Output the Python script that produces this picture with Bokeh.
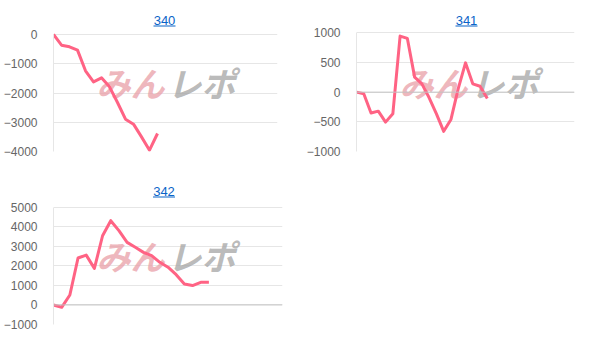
from bokeh.plotting import figure
from bokeh.models import Range1d, FixedTicker, Label, Span, ColumnDataSource, BoxAnnotation
from bokeh.layouts import column, row
from bokeh.embed import file_html
from bokeh.resources import INLINE

# ---- data ----
titles = ["340", "341", "342"]
s340 = [0, -365, -420, -535, -1240, -1620, -1480, -1790, -2325, -2895, -3065, -3500, -3955, -3385]
s341 = [0, -28, -350, -320, -505, -365, 945, 905, 253, 140, -95, -365, -660, -460, 60, 494, 140, 100, -107]
s342 = [0, -120, 510, 2400, 2550, 1870, 3540, 4310, 3800, 3200, 2950, 2690, 2520, 2180, 1930, 1550, 1070, 990, 1160, 1160]
slots = [28, 30, 28]          # number of x intervals on each chart's category axis
yranges = [(-4000, 0), (-1000, 1000), (-1000, 5000)]
yticks = [[-4000, -3000, -2000, -1000, 0],
          [-1000, -500, 0, 500, 1000],
          [-1000, 0, 1000, 2000, 3000, 4000, 5000]]

LINE = "#ff6384"
GRID = "#e6e6e6"
LINK = "#0a64c8"
FONT = "Liberation Sans"
W, H = 303, 171
FTOP = 5   # frame top (the title area lives inside the frame, above the data area)


def make(title, series, nslot, yr, ticks, left, right, data_top, data_bottom, tx):
    # data_top/data_bottom: pixel rows (within this figure) of the top and bottom tick values
    ypp = (yr[1] - yr[0]) / (data_bottom - data_top)
    yend = yr[1] + (data_top - FTOP) * ypp
    p = figure(width=W, height=H, output_backend="svg", toolbar_location=None,
               x_range=Range1d(0, nslot), y_range=Range1d(yr[0], yend),
               min_border_left=left, min_border_right=right,
               min_border_top=FTOP, min_border_bottom=H - data_bottom)
    fh = data_bottom - FTOP
    p.outline_line_color = None
    p.xaxis.visible = False
    p.xgrid.visible = False
    p.ygrid.grid_line_color = GRID
    p.ygrid.ticker = FixedTicker(ticks=ticks)
    ax = p.yaxis[0]
    ax.ticker = FixedTicker(ticks=ticks)
    ax.bounds = yr
    ax.major_tick_line_color = None
    ax.minor_tick_line_color = None
    ax.axis_line_color = GRID
    ax.major_label_text_font = FONT
    ax.major_label_text_font_size = "12px"
    ax.major_label_text_color = "#666666"
    ax.major_label_standoff = 10
    # watermark
    p.add_layout(Label(x=77, y=69, x_units="screen", y_units="screen",
                       text="みん", text_font="Noto Sans CJK JP", text_font_style="bold italic",
                       text_font_size="34px", text_color="#e9a0a8", text_alpha=0.75,
                       text_align="center", text_baseline="middle", level="underlay"))
    p.add_layout(Label(x=148, y=69, x_units="screen", y_units="screen",
                       text="レポ", text_font="Noto Sans CJK JP", text_font_style="bold italic",
                       text_font_size="34px", text_color="#a8a8a8", text_alpha=0.8,
                       text_align="center", text_baseline="middle", level="underlay"))
    if yr[0] < 0 < yr[1]:
        p.add_layout(Span(location=0, dimension="width", line_color="#c4c4c4", line_width=1))
    src = ColumnDataSource(dict(x=list(range(len(series))), y=series))
    p.line("x", "y", source=src, line_color=LINE, line_width=3, line_join="round")
    # title, styled as an underlined link
    base = fh - 15
    p.add_layout(Label(x=tx, y=base, x_units="screen", y_units="screen", text=title,
                       text_font=FONT, text_font_size="13px", text_color=LINK,
                       text_align="center", text_baseline="alphabetic"))
    p.add_layout(BoxAnnotation(left=tx - 11, right=tx + 11, bottom=base - 6, top=base - 5,
                               left_units="screen", right_units="screen",
                               bottom_units="screen", top_units="screen",
                               fill_color=LINK, fill_alpha=1, line_color=None, line_alpha=0))
    return p


p1 = make(titles[0], s340, slots[0], yranges[0], yticks[0], 43, 26, 34, 151, 111)
p2 = make(titles[1], s341, slots[1], yranges[1], yticks[1], 38, 32, 32.3, 151, 110)
p3 = make(titles[2], s342, slots[2], yranges[2], yticks[2], 47, 21, 35.7, 153, 110.5)

layout = column(row(p1, p2), row(p3))
open("out.html", "w").write(file_html(layout, INLINE))
